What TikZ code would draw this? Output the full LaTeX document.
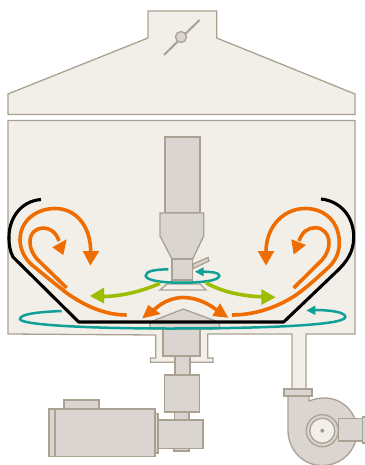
\documentclass[tikz,border=0pt]{standalone}
\definecolor{cream}{HTML}{F2EFE9}
\definecolor{edge}{HTML}{ABA193}
\definecolor{metal}{HTML}{DAD5D0}
\definecolor{flowo}{HTML}{EE6C00}
\definecolor{flowt}{HTML}{0FA197}
\definecolor{flowg}{HTML}{9DBE00}
\tikzset{
  shell/.style={fill=cream,draw=edge,line width=1.3pt,line join=miter},
  part/.style={fill=metal,draw=edge,line width=1.3pt,line join=miter},
  orangeflow/.style={draw=flowo,line width=3.6pt},
  tealflow/.style={draw=flowt,line width=2.5pt},
  greenflow/.style={draw=flowg,line width=3.6pt},
  wall/.style={draw=black,line width=3.1pt,line join=round},
}
\begin{document}
\begin{tikzpicture}[x=1pt,y=-1pt]
\useasboundingbox (0,0) rectangle (364,465);
% hood
\draw[shell] (148,11) -- (216.7,11) -- (216.7,38) -- (355,94) -- (355,114.5) -- (8,114.5) -- (8,94) -- (148,38) -- cycle;
\draw[edge,line width=2pt] (164,55) -- (199.5,20);
\draw[part] (181,37) circle (5.5);
% chamber
\draw[shell] (8,120.5) -- (355,120.5) -- (355,334) -- (306,334) -- (306,389) -- (292,389) -- (292,334) -- (207.7,334) -- (207.7,358) -- (213,358) -- (213,362.3) -- (150.4,362.3) -- (150.4,358) -- (155.7,358) -- (155.7,335) -- (8,334) -- cycle;
% fan
\draw[part] (288,396) -- (288,430) .. controls (288,450) and (303,465.5) .. (322,465.5) .. controls (342,465.5) and (357,450) .. (357,431) .. controls (357,412) and (342,398) .. (325,398) .. controls (319,398) and (314,399) .. (309,401) -- (309,396) -- cycle;
\draw[part] (284,389) rectangle (312,396);
\draw[part] (322.3,430.7) circle (16);
\draw[fill=cream,draw=edge,line width=1.3pt] (322.3,430.7) circle (12.5);
\fill[edge!80!gray] (322.3,430.7) circle (2);
\draw[part] (338.3,418.3) rectangle (362.3,441);
\draw[part] (362.3,417) rectangle (366,443);
% column
\draw[part] (165,137) rectangle (200,213);
\draw[part] (160,213) -- (203.7,213) -- (203.7,236) -- (192.7,259) -- (172,259) -- (160,236) -- cycle;
\draw[part] (193,264) -- (208,257.5) -- (209,261) -- (193,268.5) -- cycle;
\draw[part] (172,259) rectangle (192.7,280);
\draw[part] (172,280) rectangle (192.7,283);
\draw[shell] (167,284) -- (200,284) -- (206,290) -- (160,290) -- cycle;
% drive
\draw[part] (175,356) rectangle (190,375);
\draw[part] (164.3,375) rectangle (199.3,412);
\draw[part] (174.5,412) rectangle (189,420);
\draw[part] (174,448) rectangle (189,451);
\draw[part] (157.5,420) rectangle (203,448.5);
\draw[part] (155,413.5) rectangle (158,453);
\draw[part] (64,400) rectangle (99,409);
\draw[part] (55,409) rectangle (155,456.5);
\draw[part] (49,409) rectangle (55,456.5);
% hub
\draw[part] (163,328) rectangle (200,356);
\draw[part] (150,329) -- (150,323) -- (155,320) -- (183.3,309) -- (213,320) -- (219.5,323) -- (219.5,329) -- cycle;
% wall
\draw[wall] (41,199.5) .. controls (21,201) and (9,218) .. (9,237) .. controls (9,246) and (10,251) .. (13,257) -- (78.7,322) -- (283.7,322) -- (335,273) .. controls (347,262) and (353.7,252) .. (353.7,237) .. controls (353.7,216) and (340,201) .. (321,199);
% teal big
\draw[tealflow] (61.7,311) .. controls (38,312) and (20,314) .. (20,319) .. controls (20,325) and (90,328.5) .. (170,328.5) .. controls (250,328.5) and (345.3,326) .. (345.3,317) .. controls (345.3,312) and (330,310) .. (314,310);
\fill[flowt] (306.5,310.5) -- (315.3,305.5) -- (315.3,315) -- cycle;
% teal small
\draw[tealflow] (168.3,269.3) .. controls (155,269.5) and (145.7,271) .. (145.7,275.7) .. controls (145.7,280) and (160,282.7) .. (180,282.7) .. controls (200,282.7) and (219.3,281) .. (219.3,275.7) .. controls (219.3,272.5) and (211,271.7) .. (202,271.7);
\fill[flowt] (195,271.7) -- (203.5,267.3) -- (203.5,276.3) -- cycle;
% green
\draw[greenflow] (160,283.3) .. controls (145,290) and (125,296) .. (103,296.6);
\fill[flowg] (90,296) -- (104,287.5) -- (104,303.5) -- cycle;
\draw[greenflow] (206,282.7) .. controls (220,291) and (240,296) .. (262,296.8);
\fill[flowg] (275.5,297.3) -- (261.3,289) -- (261.3,305) -- cycle;
% orange left
\draw[orangeflow] (126.7,315) .. controls (105,315) and (85,306) .. (66.7,293) .. controls (55,284) and (42,273) .. (32,265) .. controls (24,258) and (20,248) .. (20,240) .. controls (20,221) and (36,208.5) .. (55,208.5) .. controls (76,208.5) and (90.7,226) .. (90.7,252);
\fill[flowo] (90.3,265.5) -- (82.7,251) -- (99.3,251) -- cycle;
\draw[orangeflow] (66.7,288) -- (37,259) .. controls (33,254) and (30,249) .. (30,242) .. controls (30,233) and (36,228) .. (43,228) .. controls (50,228) and (56,232) .. (59,241);
\fill[flowo] (63.3,255) -- (52.3,247.3) -- (66.7,239.3) -- cycle;
% orange right
\draw[orangeflow] (232,315) .. controls (255,315) and (278,307) .. (296,295) .. controls (310,285) and (320,275) .. (329,267) .. controls (336,260) and (339.3,252) .. (339.3,243) .. controls (339.3,222) and (325,208.5) .. (305.3,208.5) .. controls (284,208.5) and (266,226) .. (266,252);
\fill[flowo] (266,265.5) -- (257.7,251) -- (274.3,251) -- cycle;
\draw[orangeflow] (293.7,288) -- (322,260) .. controls (327,254) and (329,249) .. (329,243) .. controls (329,234) and (323,227.7) .. (315.3,227.7) .. controls (308,227.7) and (302,232) .. (299,241);
\fill[flowo] (293.7,254.5) -- (291.3,239.3) -- (306,245) -- cycle;
% orange centre
\draw[orangeflow] (152,312) .. controls (160,303) and (172,297.5) .. (183,297.5) .. controls (196,297.5) and (208,303) .. (218,311);
\fill[flowo] (142.3,318.3) -- (148.3,305) -- (160.7,314) -- cycle;
\fill[flowo] (228.3,317.7) -- (212.3,316) -- (220,303.3) -- cycle;
\end{tikzpicture}
\end{document}
